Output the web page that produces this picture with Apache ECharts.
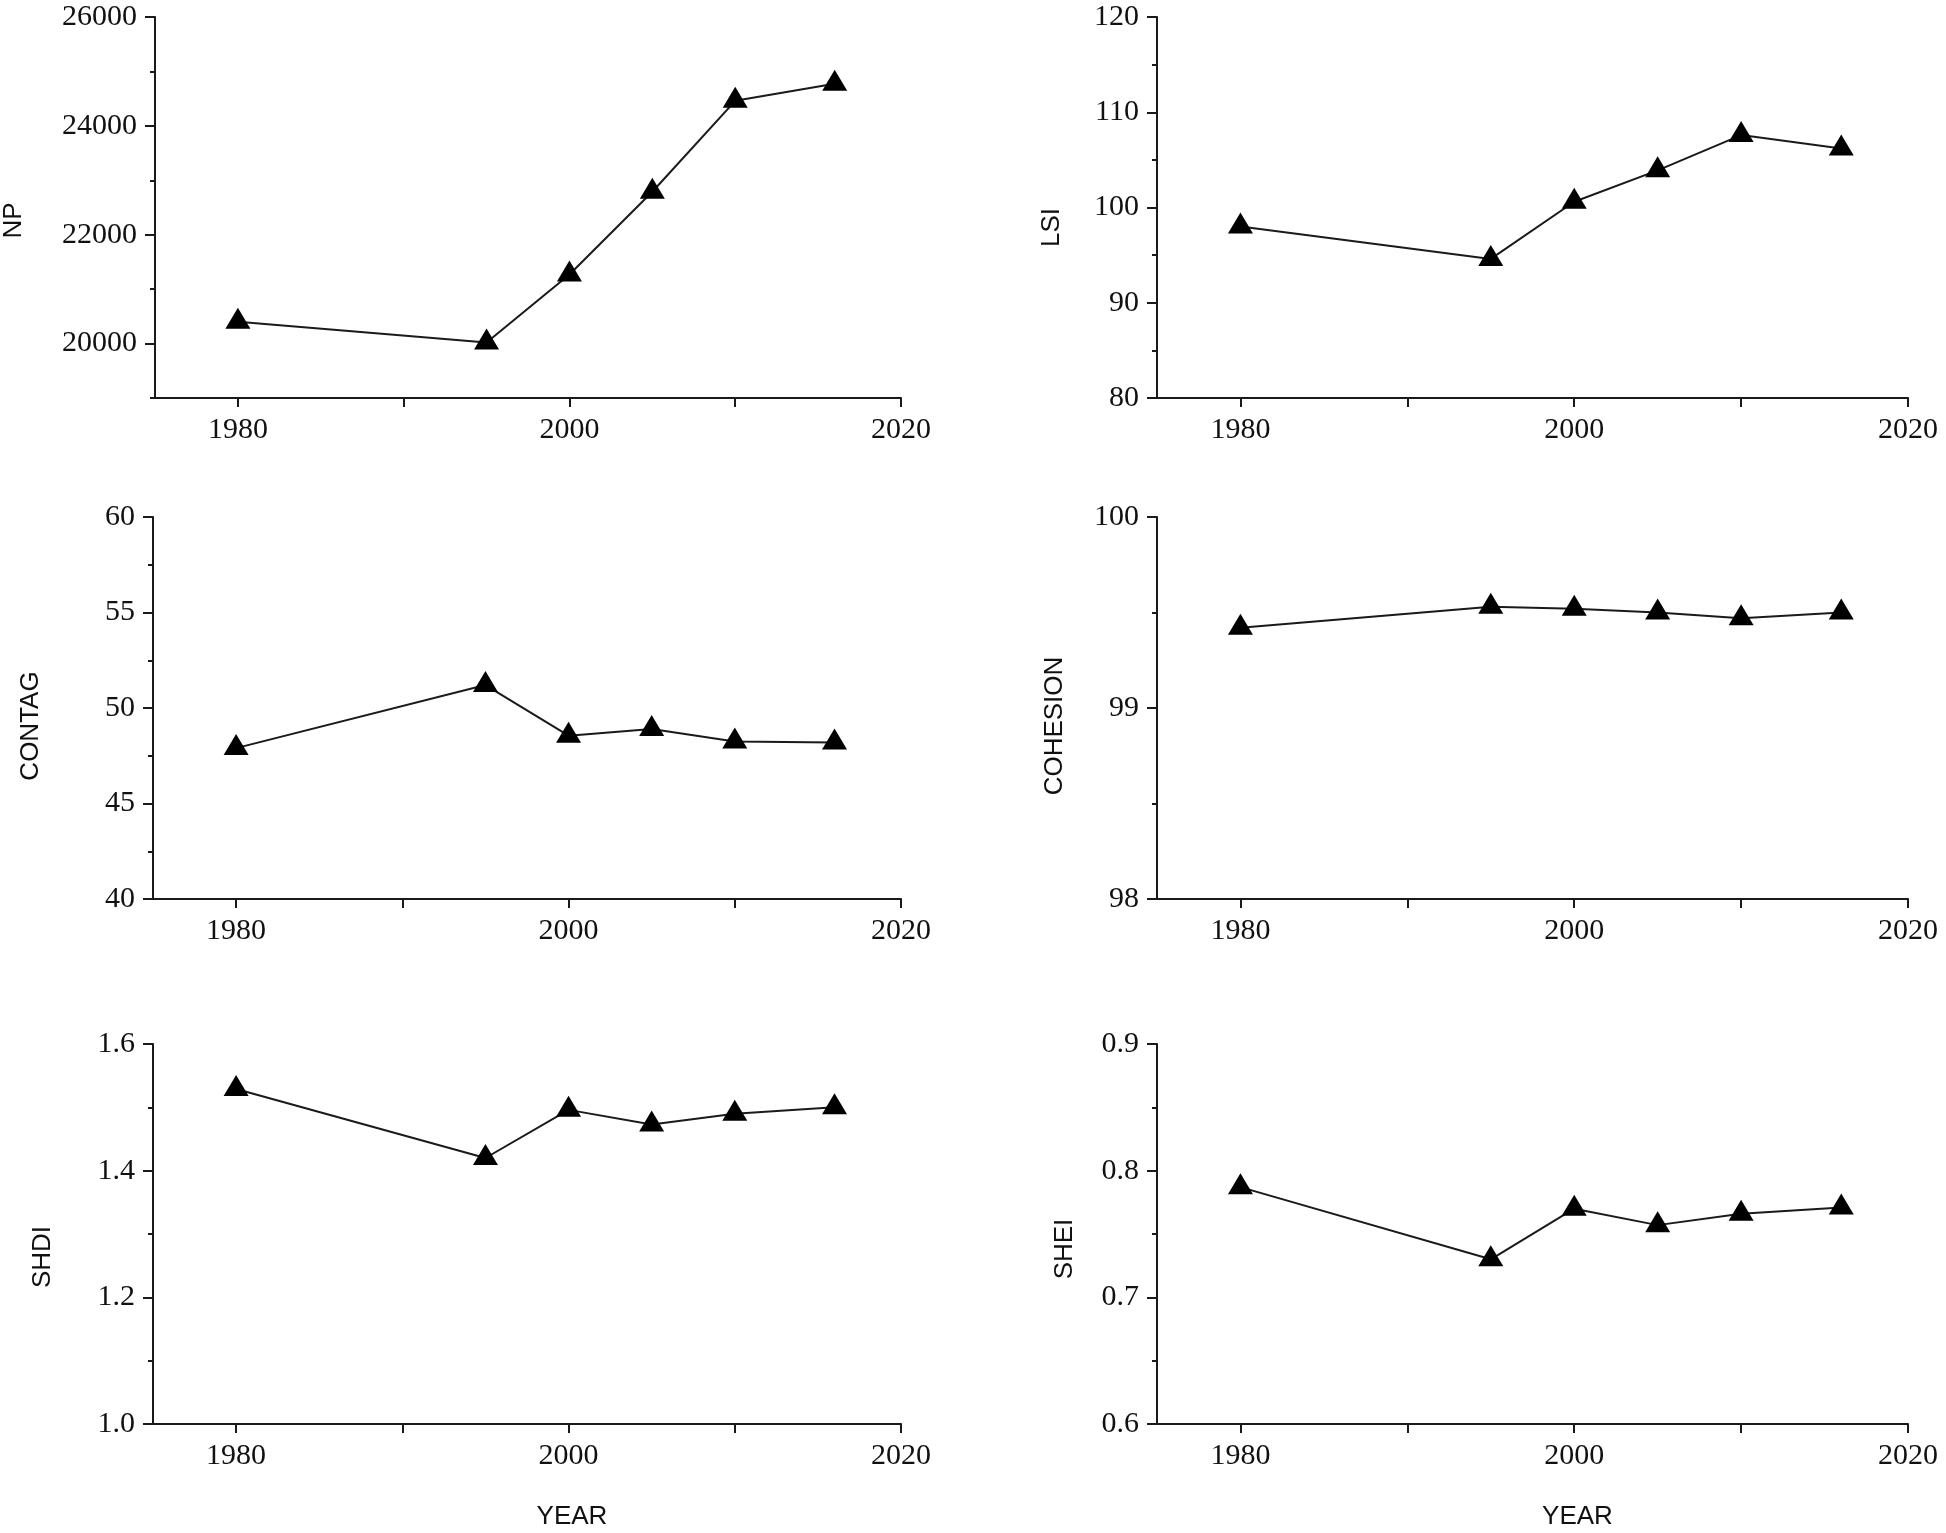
<!DOCTYPE html>
<html>
<head>
<meta charset="utf-8">
<style>
html,body{margin:0;padding:0;background:#fff;}
#chart{width:1946px;height:1533px;}
</style>
<script src="https://cdn.jsdelivr.net/npm/echarts@6/dist/echarts.min.js"></script>
</head>
<body>
<div id="chart"></div>
<script>
// ---- data ----
var years = [1980, 1995, 2000, 2005, 2010, 2016];
var npValues = [20400, 20020, 21270, 22790, 24460, 24775];
var lsiValues = [98.0, 94.6, 100.6, 103.9, 107.6, 106.2];
var contagValues = [47.9, 51.2, 48.55, 48.9, 48.25, 48.2];
var cohesionValues = [99.42, 99.53, 99.52, 99.50, 99.47, 99.50];
var shdiValues = [1.529, 1.42, 1.496, 1.473, 1.49, 1.50];
var sheiValues = [0.787, 0.730, 0.770, 0.757, 0.766, 0.771];

var xTickValues = [1980, 1990, 2000, 2010, 2020];
var xLabelValues = [1980, 2000, 2020];

var npTicks = [20000, 22000, 24000, 26000];
var npMinor = [19000, 21000, 23000, 25000];
var lsiTicks = [80, 90, 100, 110, 120];
var lsiMinor = [85, 95, 105, 115];
var contagTicks = [40, 45, 50, 55, 60];
var contagMinor = [42.5, 47.5, 52.5, 57.5];
var cohesionTicks = [98, 99, 100];
var cohesionMinor = [98.5, 99.5];
var shdiTicks = [1.0, 1.2, 1.4, 1.6];
var shdiMinor = [1.1, 1.3, 1.5];
var sheiTicks = [0.6, 0.7, 0.8, 0.9];
var sheiMinor = [0.65, 0.75, 0.85];

// ---- panels ----
var panels = [
  {name: 'NP', values: npValues, ticks: npTicks, minor: npMinor, min: 19000, max: 26000, dec: 0, gap: 128, shift: 13, col: 0, row: 0},
  {name: 'LSI', values: lsiValues, ticks: lsiTicks, minor: lsiMinor, min: 80, max: 120, dec: 0, gap: 92, shift: 20, col: 1, row: 0},
  {name: 'CONTAG', values: contagValues, ticks: contagTicks, minor: contagMinor, min: 40, max: 60, dec: 0, gap: 109, shift: 18, col: 0, row: 1},
  {name: 'COHESION', values: cohesionValues, ticks: cohesionTicks, minor: cohesionMinor, min: 98, max: 100, dec: 0, gap: 89, shift: 18, col: 1, row: 1},
  {name: 'SHDI', values: shdiValues, ticks: shdiTicks, minor: shdiMinor, min: 1.0, max: 1.6, dec: 1, gap: 97, shift: 23, col: 0, row: 2},
  {name: 'SHEI', values: sheiValues, ticks: sheiTicks, minor: sheiMinor, min: 0.6, max: 0.9, dec: 1, gap: 79, shift: 15, col: 1, row: 2}
];

var colLeft = [153, 1157];
var colWidth = [748, 751];
var rowTop = [17, 517, 1044];
var rowHeight = [381, 382, 380];

var axisColor = '#1a1a1a';
var textColor = '#111';
var serif = '"Liberation Serif", "Times New Roman", serif';
var sans = '"Liberation Sans", Arial, sans-serif';

var grids = [], xAxes = [], yAxes = [], series = [];
panels.forEach(function (p, i) {
  grids.push({left: colLeft[p.col], top: rowTop[p.row], width: colWidth[p.col], height: rowHeight[p.row], containLabel: false});
  xAxes.push({
    type: 'value', gridIndex: i, min: 1975, max: 2020,
    name: p.row === 2 ? 'YEAR' : '',
    nameLocation: 'middle', nameGap: 80,
    nameTextStyle: {fontFamily: sans, fontSize: 26, color: textColor, padding: [0, 0, 0, 90]},
    axisLine: {show: true, onZero: false, lineStyle: {color: axisColor, width: 2}},
    axisTick: {show: true, length: 9, customValues: xTickValues, lineStyle: {color: axisColor, width: 2}},
    axisLabel: {show: true, customValues: xLabelValues, margin: 17, fontFamily: serif, fontSize: 30, color: textColor,
      formatter: function (v) { return String(Math.round(v)); }},
    splitLine: {show: false}
  });
  yAxes.push({
    type: 'value', gridIndex: i, min: p.min, max: p.max, position: 'left',
    name: p.name, nameLocation: 'middle', nameGap: p.gap, nameRotate: 90,
    nameTextStyle: {fontFamily: sans, fontSize: 26, color: textColor, padding: [0, 2 * p.shift, 0, 0]},
    axisLine: {show: true, onZero: false, lineStyle: {color: axisColor, width: 2}},
    axisTick: {show: true, length: 10, customValues: p.ticks, lineStyle: {color: axisColor, width: 2}},
    axisLabel: {show: true, customValues: p.ticks, margin: 18, fontFamily: serif, fontSize: 30, color: textColor,
      formatter: (function (d) { return function (v) { return Number(v).toFixed(d); }; })(p.dec)},
    splitLine: {show: false}
  });
  yAxes.push({
    type: 'value', gridIndex: i, min: p.min, max: p.max, position: 'left',
    axisLine: {show: false},
    axisTick: {show: true, length: 5, customValues: p.minor, lineStyle: {color: axisColor, width: 2}},
    axisLabel: {show: false},
    splitLine: {show: false}
  });
  series.push({
    type: 'line', xAxisIndex: i, yAxisIndex: 2 * i,
    data: years.map(function (y, k) { return [y, p.values[k]]; }),
    symbol: 'triangle', symbolSize: [25, 21], symbolOffset: [0, -3.5],
    itemStyle: {color: '#000'},
    lineStyle: {color: '#1a1a1a', width: 2},
    animation: false, z: 3
  });
});

var chart = echarts.init(document.getElementById('chart'), null, {renderer: 'canvas'});
chart.setOption({
  backgroundColor: '#fff',
  animation: false,
  grid: grids,
  xAxis: xAxes,
  yAxis: yAxes,
  series: series
});
</script>
</body>
</html>
